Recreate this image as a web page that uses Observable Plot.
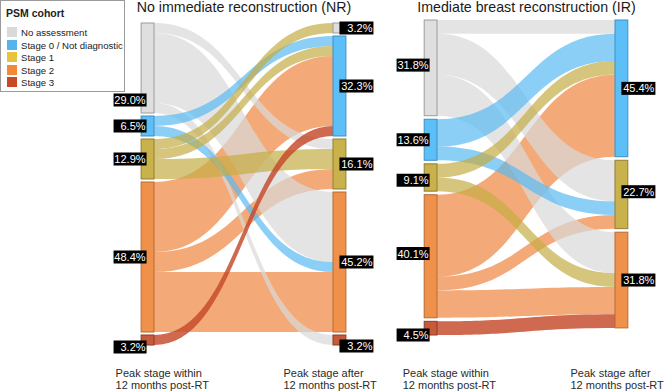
<!DOCTYPE html>
<html><head><meta charset="utf-8">
<script src="https://cdn.jsdelivr.net/npm/d3@7"></script>
<script src="https://cdn.jsdelivr.net/npm/@observablehq/plot@0.6"></script>
<style>
body{margin:0;background:#fff;font-family:"Liberation Sans",Arial,sans-serif;}
#wrap{position:relative;width:666px;height:392px;overflow:hidden;background:#fff}
#wrap svg{position:absolute;top:0;overflow:visible;background:transparent}
.legend{position:absolute;left:0;top:0;width:125px;height:92px;border:1px solid #9a9a9a;background:#fff;box-sizing:border-box;font-size:9.6px;color:#222;z-index:5}
.legend .ttl{position:absolute;left:5px;top:6px;font-weight:bold;font-size:10.5px}
.legend .row{position:absolute;left:6px;height:12px;line-height:12px;white-space:nowrap}
.legend .sw{display:inline-block;width:10px;height:10px;vertical-align:-1px;margin-right:4px}
</style></head><body><div id="wrap"></div>
<script>
// ---- data ----
const categories = ["No assessment", "Stage 0 / Not diagnostic", "Stage 1", "Stage 2", "Stage 3"];
const legendTitle = "PSM cohort";

// No immediate reconstruction (NR): flows (patients) from stage within 12 months -> stage after 12 months
const nrTitle = "No immediate reconstruction (NR)";
const nrSource = [0, 0, 0, 1, 1, 2, 2, 2, 3, 3, 3, 4];
const nrTarget = [2, 3, 4, 1, 3, 0, 1, 2, 1, 2, 3, 1];
const nrValue  = [1, 7, 1, 1, 1, 1, 1, 2, 7, 2, 6, 1];
const nrLeftLabels  = ["29.0%", "6.5%", "12.9%", "48.4%", "3.2%"];
const nrRightLabels = ["3.2%", "32.3%", "16.1%", "45.2%", "3.2%"];

// Immediate breast reconstruction (IR)
const irTitle = "Imediate breast reconstruction (IR)";
const irSource = [0, 0, 0, 1, 1, 2, 2, 3, 3, 3, 4];
const irTarget = [1, 2, 3, 1, 2, 1, 3, 1, 2, 3, 3];
const irValue  = [1, 3, 3, 2, 1, 1, 1, 6, 1, 2, 1];
const irLeftLabels  = ["31.8%", "13.6%", "9.1%", "40.1%", "4.5%"];
const irRightLabels = ["", "45.4%", "22.7%", "31.8%", ""];

const axisLabels = ["Peak stage within\n12 months post-RT", "Peak stage after\n12 months post-RT"];

// ---- styles ----
const legendColors = ["#d9d9d9", "#56b4e9", "#e6c43e", "#f28a35", "#c64a28"];
const nodeFill   = ["#dfdfdf", "#5cbff7", "#c9b24c", "#f0914b", "#c65b3c"];
const nodeStroke = ["#9c9c9c", "#3f8fc2", "#8f7e35", "#b56b35", "#8c3c26"];
const flowFill   = ["#d8d8d8", "#5ab9f2", "#c4ad45", "#ef863e", "#c4482a"];
const flowOpacity = [0.7, 0.7, 0.7, 0.7, 0.82];
const drawOrder = [3, 0, 1, 2, 4];
const nodeW = 0.072;

function layout(src, tgt, val, n, gap) {
  const outSum = Array(n).fill(0), inSum = Array(n).fill(0);
  src.forEach((s, i) => { outSum[s] += val[i]; inSum[tgt[i]] += val[i]; });
  const left = [], right = [];
  let y = 0;
  for (let k = 0; k < n; k++) if (outSum[k] > 0) { left[k] = {k, y0: y, y1: y + outSum[k]}; y += outSum[k] + gap; }
  y = 0;
  for (let k = 0; k < n; k++) if (inSum[k] > 0) { right[k] = {k, y0: y, y1: y + inSum[k]}; y += inSum[k] + gap; }
  const links = src.map((s, i) => ({id: i, s, t: tgt[i], v: val[i]}));
  for (let k = 0; k < n; k++) {
    let o = left[k] ? left[k].y0 : 0;
    links.filter(l => l.s === k).sort((a, b) => a.t - b.t).forEach(l => { l.sy0 = o; o += l.v; l.sy1 = o; });
    o = right[k] ? right[k].y0 : 0;
    links.filter(l => l.t === k).sort((a, b) => a.s - b.s).forEach(l => { l.ty0 = o; o += l.v; l.ty1 = o; });
  }
  return {left: left.filter(Boolean), right: right.filter(Boolean), links};
}

function panel(cfg) {
  const L = layout(cfg.src, cfg.tgt, cfg.val, categories.length, cfg.gap);
  const rows = [];
  drawOrder.forEach(s => L.links.filter(l => l.s === s).forEach(l => {
    rows.push({id: l.id, s: l.s, x: 0, y1: l.sy0, y2: l.sy1});
    rows.push({id: l.id, s: l.s, x: 1, y1: l.ty0, y2: l.ty1});
  }));
  const nodes = [
    ...L.left.map(d => ({...d, x1: -nodeW, x2: 0})),
    ...L.right.map(d => ({...d, x1: 1, x2: 1 + nodeW}))
  ];
  const labL = L.left.map(d => ({x: -nodeW / 2, y: (d.y0 + d.y1) / 2 + (cfg.nudgeL[d.k] || 0), text: cfg.leftLabels[d.k]})).filter(d => d.text);
  const labR = L.right.map(d => ({x: 1 + nodeW / 2, y: (d.y0 + d.y1) / 2 + (cfg.nudgeR[d.k] || 0), text: cfg.rightLabels[d.k]})).filter(d => d.text);
  const H = 392;
  const axisBase = H - cfg.mb;
  const marks = [];
  drawOrder.forEach(s => {
    const r = rows.filter(d => d.s === s);
    if (r.length) marks.push(Plot.areaY(r, {x: "x", y1: "y1", y2: "y2", z: "id", fill: flowFill[s], fillOpacity: flowOpacity[s], curve: "bump-x"}));
  });
  return Plot.plot({
    width: cfg.width, height: H,
    marginLeft: cfg.ml, marginRight: cfg.mr, marginTop: cfg.mt, marginBottom: cfg.mb,
    x: {domain: [0, 1], axis: null},
    y: {domain: [0, cfg.ydom], reverse: true, axis: null},
    color: {type: "identity"},
    style: {fontFamily: "'Liberation Sans', Arial, sans-serif", background: "transparent", overflow: "visible"},
    marks: [
      ...marks,
      Plot.rect(nodes, {x1: "x1", x2: "x2", y1: "y0", y2: "y1", fill: d => nodeFill[d.k], stroke: d => nodeStroke[d.k], strokeWidth: 1}),
      Plot.rect(labL, {x1: "x", x2: "x", y1: "y", y2: "y", fill: "black", insetLeft: -34, insetRight: 1, insetTop: -6.5, insetBottom: -6.5}),
      Plot.rect(labR, {x1: "x", x2: "x", y1: "y", y2: "y", fill: "black", insetLeft: 0, insetRight: -34, insetTop: -6.5, insetBottom: -6.5}),
      Plot.text(labL, {x: "x", y: "y", text: "text", fill: "white", fontSize: 11, textAnchor: "end", dx: -2.5}),
      Plot.text(labR, {x: "x", y: "y", text: "text", fill: "white", fontSize: 11, textAnchor: "end", dx: 32.5}),
      Plot.text([cfg.title], {x: 0.5, frameAnchor: "top", lineAnchor: "middle", dy: 7 - cfg.mt, fontSize: 14.2, fill: "#1a1a1a"}),
      Plot.text([axisLabels[0]], {x: -nodeW, frameAnchor: "bottom", lineAnchor: "middle", dy: 378.5 - axisBase, dx: cfg.axDx[0], textAnchor: "start", fontSize: 11, lineHeight: 1.15, fill: "#2b2b2b"}),
      Plot.text([axisLabels[1]], {x: 1, frameAnchor: "bottom", lineAnchor: "middle", dy: 378.5 - axisBase, dx: cfg.axDx[1], textAnchor: "start", fontSize: 11, lineHeight: 1.15, fill: "#2b2b2b"})
    ]
  });
}

const wrap = document.getElementById("wrap");
const nrGap = 0.3, irGap = 0.26;
const p1 = panel({
  src: nrSource, tgt: nrTarget, val: nrValue, gap: nrGap, ydom: 31 + 4 * nrGap,
  leftLabels: nrLeftLabels, rightLabels: nrRightLabels, title: nrTitle,
  nudgeL: {0: 3.2, 4: 0.7}, nudgeR: {4: 0.6},
  width: 380, ml: 154, mr: 47, mt: 23, mb: 47, axDx: [-26, -50]
});
p1.style.left = "0px";
const p2 = panel({
  src: irSource, tgt: irTarget, val: irValue, gap: irGap, ydom: 22 + 4 * irGap,
  leftLabels: irLeftLabels, rightLabels: irRightLabels, title: irTitle,
  nudgeL: {0: -0.2, 2: 0.2, 3: -0.2, 4: 0.5}, nudgeR: {2: -0.2},
  width: 286, ml: 57, mr: 51, mt: 20, mb: 57, axDx: [-22, -45]
});
p2.style.left = "380px";
wrap.appendChild(p1);
wrap.appendChild(p2);

// legend
const lg = document.createElement("div");
lg.className = "legend";
lg.innerHTML = `<div class="ttl">${legendTitle}</div>` +
  categories.map((c, i) => `<div class="row" style="top:${26 + i * 12.6}px"><span class="sw" style="background:${legendColors[i]}"></span>${c}</div>`).join("");
wrap.appendChild(lg);
</script>
</body></html>
